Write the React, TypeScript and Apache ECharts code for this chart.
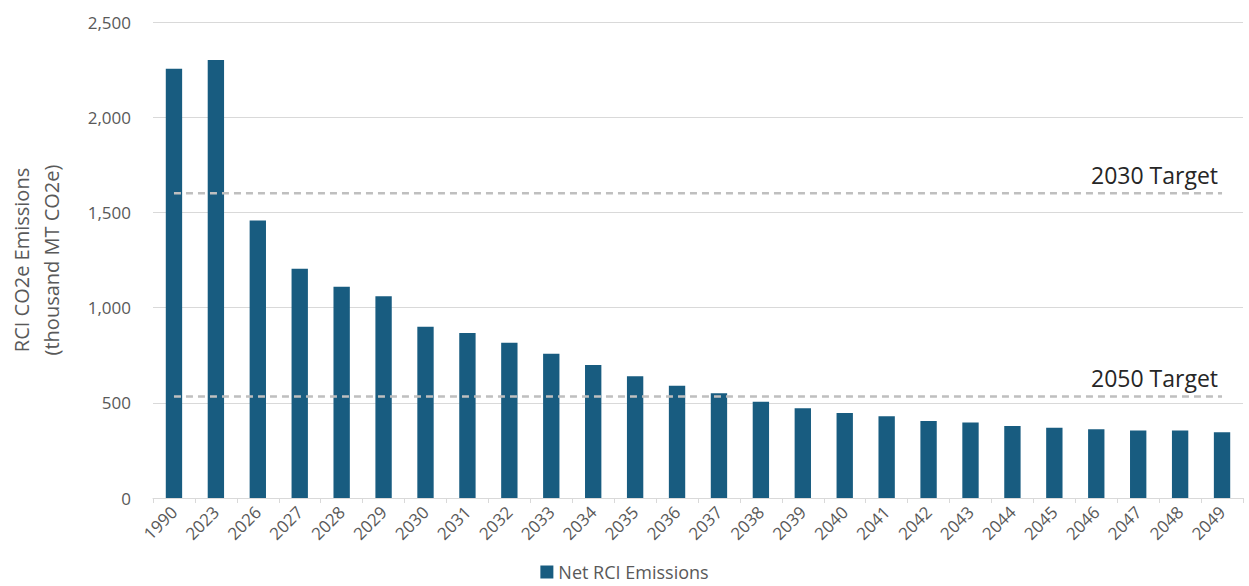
import React, { useEffect, useRef } from "react";
import * as echarts from "echarts";

const years = ["1990","2023","2026","2027","2028","2029","2030","2031","2032","2033","2034","2035","2036","2037","2038","2039","2040","2041","2042","2043","2044","2045","2046","2047","2048","2049"];
const netEmissions = [2255,2300,1458,1204,1110,1059,900,867,816,758,698,639,589,550,506,471,446,429,404,396,378,369,361,354,354,345];
const target2030 = 1600;
const target2050 = 533;
const yTicks = [0, 500, 1000, 1500, 2000, 2500];

const FONT = "'Open Sans', 'Noto Sans', sans-serif";

export default function App() {
  const ref = useRef<HTMLDivElement>(null);
  useEffect(() => {
    document.body.style.margin = "0";
    if (!ref.current) return;
    const chart = echarts.init(ref.current, undefined, { renderer: "svg" });
    const targetLine = (val: number, name: string) => ({
      type: "line",
      name,
      data: years.map(() => val),
      showSymbol: false,
      symbol: "none",
      silent: true,
      z: 5,
      lineStyle: { color: "#bfbfbf", width: 2.5, type: [7, 5] },
      endLabel: {
        show: true,
        formatter: name,
        align: "right",
        verticalAlign: "bottom",
        offset: [-12, -7],
        fontSize: 23,
        color: "#262626",
        fontFamily: FONT,
      },
    });
    chart.setOption({
      animation: false,
      textStyle: { fontFamily: FONT },
      grid: { left: 153, right: 6, top: 22, bottom: 88, outerBoundsMode: "none", containLabel: false },
      legend: {
        data: ["Net RCI Emissions"],
        bottom: 0,
        left: "center",
        icon: "rect",
        itemWidth: 13,
        itemHeight: 13,
        itemGap: 6,
        textStyle: { color: "#595959", fontSize: 18, fontFamily: FONT },
      },
      xAxis: {
        type: "category",
        data: years,
        axisLine: { lineStyle: { color: "#d9d9d9", width: 1 } },
        axisTick: { show: true, length: 5, lineStyle: { color: "#d9d9d9" } },
        axisLabel: { rotate: 45, color: "#595959", fontSize: 17, margin: 11, interval: 0 },
      },
      yAxis: {
        type: "value",
        min: yTicks[0],
        max: yTicks[yTicks.length - 1],
        interval: 500,
        name: "RCI CO2e Emissions\n(thousand MT CO2e)",
        nameLocation: "middle",
        nameGap: 87,
        nameTextStyle: { color: "#595959", fontSize: 20, lineHeight: 30 },
        axisLine: { show: false },
        axisTick: { show: false },
        axisLabel: {
          color: "#595959",
          fontSize: 17,
          margin: 22,
          formatter: (v: number) => v.toLocaleString("en-US"),
        },
        splitLine: { lineStyle: { color: "#d9d9d9", width: 1 } },
      },
      series: [
        {
          type: "bar",
          name: "Net RCI Emissions",
          data: netEmissions,
          barWidth: "39%",
          itemStyle: { color: "#185c80" },
          z: 2,
        },
        targetLine(target2030, "2030 Target"),
        targetLine(target2050, "2050 Target"),
      ],
    });
    return () => chart.dispose();
  }, []);
  return <div ref={ref} style={{ width: 1249, height: 586 }} />;
}
